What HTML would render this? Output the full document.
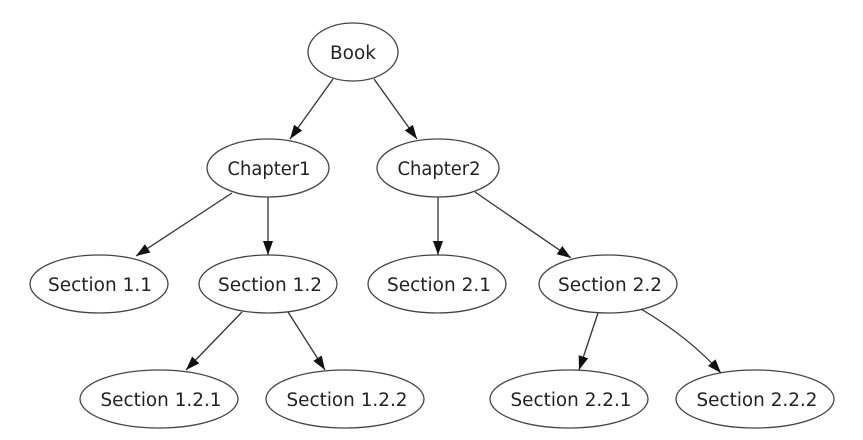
<!DOCTYPE html>
<html><head><meta charset="utf-8"><style>
html,body{margin:0;padding:0;background:#fff;}
svg{display:block;}
text{font-family:"DejaVu Sans","Liberation Sans",sans-serif;font-size:18.5px;fill:#222;}
</style></head><body>
<svg width="863" height="440" viewBox="0 0 863 440" xmlns="http://www.w3.org/2000/svg">
<defs>
<marker id="b" markerWidth="14" markerHeight="12" refX="14" refY="6" orient="auto" markerUnits="userSpaceOnUse">
<path d="M0,1 L14,6 L0,11 z" fill="#111"/></marker>
</defs>
<g fill="none" stroke="#444" stroke-width="1.3">
<ellipse cx="353" cy="52" rx="45" ry="29"/>
<ellipse cx="268" cy="168" rx="61" ry="29"/>
<ellipse cx="438" cy="168" rx="61" ry="29"/>
<ellipse cx="99" cy="284" rx="69" ry="29"/>
<ellipse cx="268" cy="284" rx="69" ry="29"/>
<ellipse cx="437" cy="284" rx="69" ry="29"/>
<ellipse cx="608" cy="284" rx="69" ry="29"/>
<ellipse cx="159" cy="399" rx="79" ry="29"/>
<ellipse cx="345" cy="399" rx="79" ry="29"/>
<ellipse cx="569" cy="399" rx="79" ry="29"/>
<ellipse cx="755" cy="399" rx="79" ry="29"/>
</g>
<g stroke="#333" stroke-width="1.3" fill="none" marker-end="url(#b)">
<line x1="333" y1="79" x2="290" y2="139"/>
<line x1="374" y1="79" x2="417" y2="139"/>
<line x1="232" y1="193" x2="136" y2="256"/>
<line x1="268" y1="197" x2="268" y2="255"/>
<line x1="438" y1="197" x2="438" y2="255"/>
<line x1="475" y1="192" x2="571" y2="258"/>
<line x1="242" y1="312" x2="186" y2="370"/>
<line x1="288" y1="312" x2="325" y2="370"/>
<line x1="598" y1="313" x2="579" y2="370"/>
<path d="M641,309 Q690,338 721,373"/>
</g>
<g text-anchor="middle">
<text x="353" y="59" textLength="46" lengthAdjust="spacingAndGlyphs">Book</text>
<text x="269" y="175" textLength="83" lengthAdjust="spacingAndGlyphs">Chapter1</text>
<text x="439" y="175" textLength="83" lengthAdjust="spacingAndGlyphs">Chapter2</text>
<text x="100" y="291" textLength="104" lengthAdjust="spacingAndGlyphs">Section 1.1</text>
<text x="270" y="291" textLength="104" lengthAdjust="spacingAndGlyphs">Section 1.2</text>
<text x="439" y="291" textLength="104" lengthAdjust="spacingAndGlyphs">Section 2.1</text>
<text x="610" y="291" textLength="104" lengthAdjust="spacingAndGlyphs">Section 2.2</text>
<text x="161" y="406" textLength="121" lengthAdjust="spacingAndGlyphs">Section 1.2.1</text>
<text x="347" y="406" textLength="121" lengthAdjust="spacingAndGlyphs">Section 1.2.2</text>
<text x="571" y="406" textLength="121" lengthAdjust="spacingAndGlyphs">Section 2.2.1</text>
<text x="757" y="406" textLength="121" lengthAdjust="spacingAndGlyphs">Section 2.2.2</text>
</g>
</svg>
</body></html>
